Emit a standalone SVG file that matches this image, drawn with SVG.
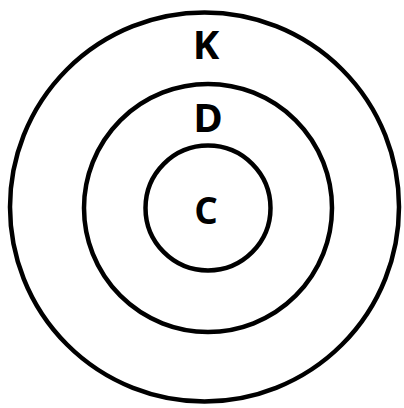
<svg xmlns="http://www.w3.org/2000/svg" width="404" height="408" viewBox="0 0 404 408">
<style>
.ring{fill:none;stroke:#000;stroke-width:4.5}
.lbl{font-family:"Open Sans","Liberation Sans",sans-serif;font-weight:bold;fill:#000;text-anchor:middle}
</style>
<rect width="404" height="408" fill="#fff"/>
<g id="K">
<circle class="ring" cx="204.5" cy="207" r="194.5"/>
<text class="lbl" x="206" y="59" font-size="40">K</text>
</g>
<g id="D">
<circle class="ring" cx="208" cy="208" r="124"/>
<text class="lbl" x="208" y="132" font-size="40">D</text>
</g>
<g id="C">
<circle class="ring" cx="208" cy="208" r="62.5"/>
<text class="lbl" x="206" y="223.5" font-size="37">C</text>
</g>
<g id="connectors"/>
</svg>
